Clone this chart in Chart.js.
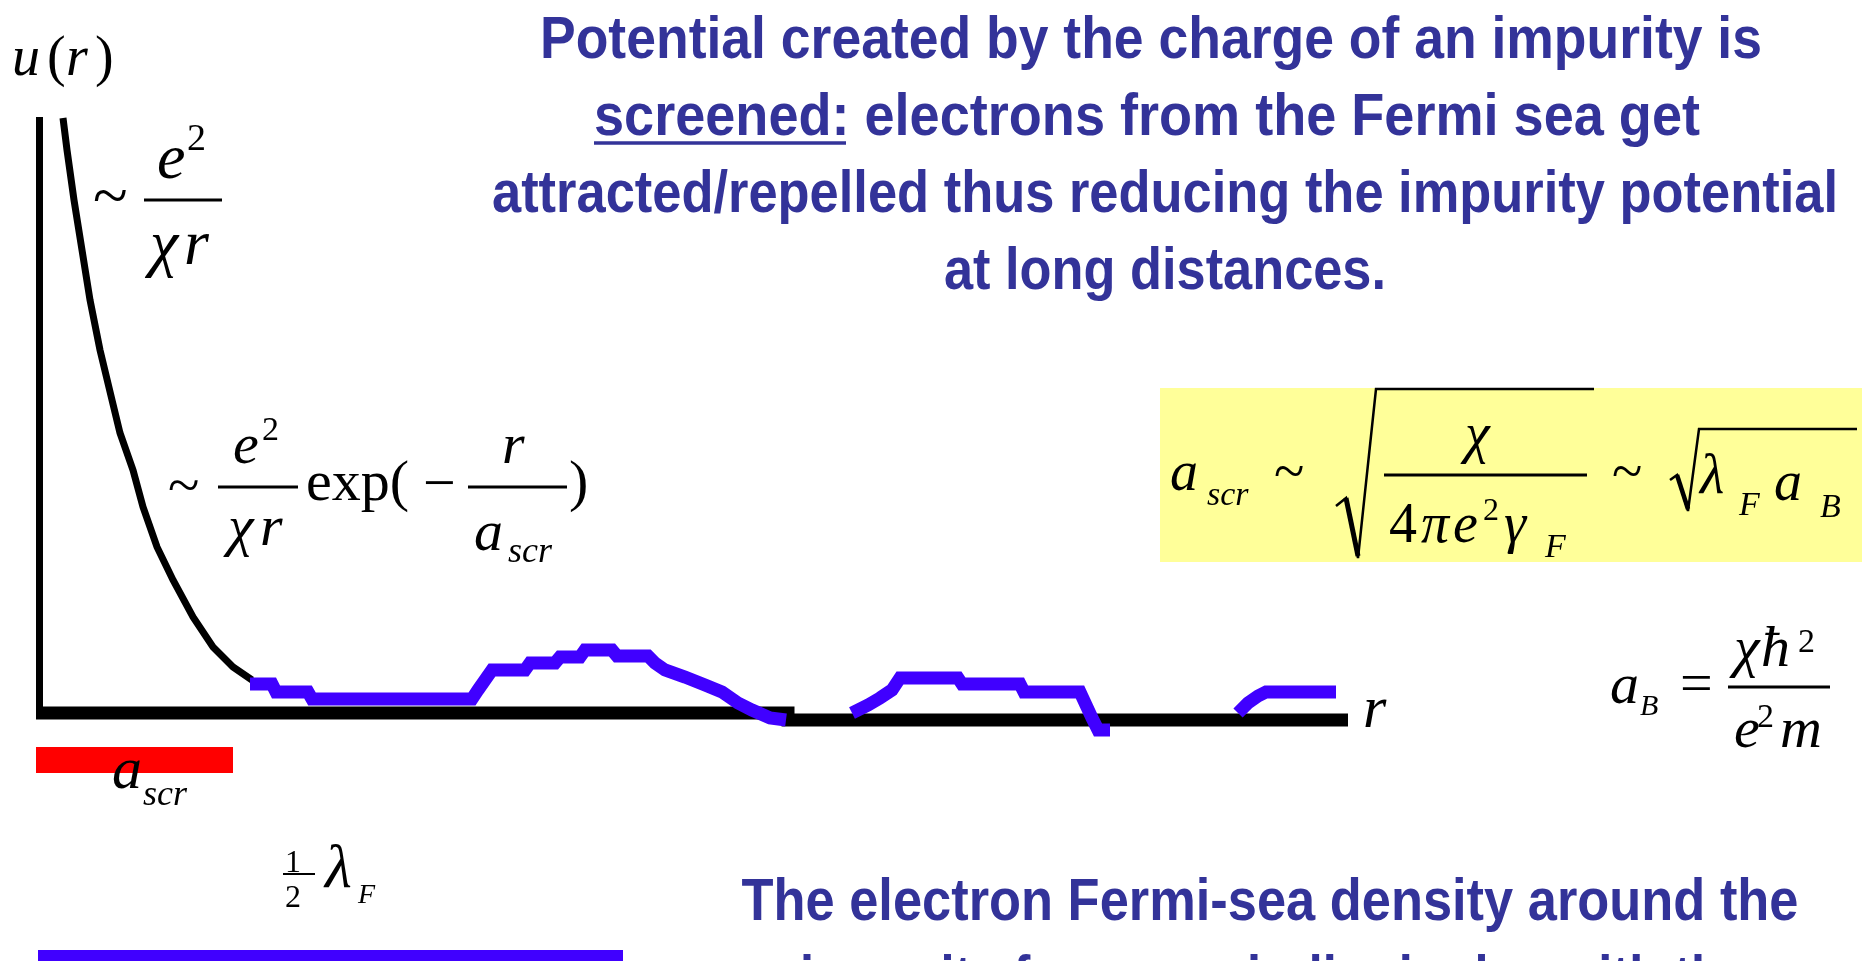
<!DOCTYPE html>
<html>
<head>
<meta charset="utf-8">
<script src="https://cdn.jsdelivr.net/npm/chart.js@4"></script>
<style>
    body { margin: 0; background: #fff; overflow: hidden; }
    #wrap { position: relative; width: 1862px; height: 961px; }
    #chart, #notes { position: absolute; left: 0; top: 0; }
    .sans { font-family: 'Liberation Sans', Arial, sans-serif; fill: #333399; font-size: 60px; font-weight: bold; }
    .serif { font-family: 'Liberation Serif', 'Times New Roman', serif; fill: #000; }
    .it { font-style: italic; }
</style>
</head>
<body>
<div id="wrap">
    <canvas id="chart" width="1862" height="961"></canvas>
    <svg id="notes" width="1862" height="961">
        <rect x="1160" y="388" width="702" height="174" fill="#ffff99"/>

        <text class="sans" x="1151" y="58" text-anchor="middle" textLength="1222" lengthAdjust="spacingAndGlyphs">Potential created by the charge of an impurity is</text>
        <text class="sans" x="1147" y="135" text-anchor="middle" textLength="1106" lengthAdjust="spacingAndGlyphs">screened: electrons from the Fermi sea get</text>
        <line x1="594" x2="846" y1="143" y2="143" stroke="#333399" stroke-width="3.5"/>
        <text class="sans" x="1165" y="212" text-anchor="middle" textLength="1346" lengthAdjust="spacingAndGlyphs">attracted/repelled thus reducing the impurity potential</text>
        <text class="sans" x="1165" y="289" text-anchor="middle" textLength="442" lengthAdjust="spacingAndGlyphs">at long distances.</text>
        <text class="sans" x="1270" y="920" text-anchor="middle" textLength="1057" lengthAdjust="spacingAndGlyphs">The electron Fermi-sea density around the</text>
        <text class="sans" x="1275" y="997" text-anchor="middle" textLength="950" lengthAdjust="spacingAndGlyphs">impurity forms periodic ripples with the</text>

        <g class="serif">
            <text font-size="56" y="75"><tspan class="it" x="12">u</tspan><tspan x="47">(</tspan><tspan class="it" x="66">r</tspan><tspan x="95">)</tspan></text>

            <text font-size="64" x="93" y="217">~</text>
            <text font-size="64" class="it" x="157" y="178">e</text>
            <text font-size="38" x="187" y="150">2</text>
            <line x1="144" x2="222" y1="200" y2="200" stroke="#000" stroke-width="3"/>
            <text font-size="64" class="it" y="264"><tspan x="150">χ</tspan><tspan x="184">r</tspan></text>

            <text font-size="58" x="168" y="504">~</text>
            <text font-size="58" class="it" x="233" y="463">e</text>
            <text font-size="34" x="262" y="440">2</text>
            <line x1="218" x2="298" y1="487" y2="487" stroke="#000" stroke-width="3"/>
            <text font-size="58" class="it" y="545"><tspan x="228">χ</tspan><tspan x="260">r</tspan></text>
            <text font-size="58" x="306" y="500">exp(</text>
            <text font-size="58" x="423" y="502">−</text>
            <line x1="468" x2="567" y1="487" y2="487" stroke="#000" stroke-width="3"/>
            <text font-size="58" class="it" x="502" y="463">r</text>
            <text font-size="58" class="it" x="474" y="550">a</text>
            <text font-size="36" class="it" x="508" y="562">scr</text>
            <text font-size="58" x="569" y="500">)</text>

            <text font-size="60" class="it" x="1363" y="727">r</text>

            <text font-size="60" class="it" x="112" y="788">a</text>
            <text font-size="36" class="it" x="143" y="805">scr</text>

            <text font-size="32" x="285" y="872">1</text>
            <line x1="283" x2="315" y1="874" y2="874" stroke="#000" stroke-width="2"/>
            <text font-size="32" x="285" y="907">2</text>
            <text font-size="62" class="it" x="325" y="887">λ</text>
            <text font-size="28" class="it" x="358" y="903">F</text>

            <text font-size="58" class="it" x="1610" y="703">a</text>
            <text font-size="30" class="it" x="1640" y="715">B</text>
            <text font-size="58" x="1680" y="702">=</text>
            <line x1="1728" x2="1830" y1="687" y2="687" stroke="#000" stroke-width="3"/>
            <text font-size="58" class="it" y="666"><tspan x="1734">χ</tspan><tspan x="1761">ħ</tspan></text>
            <text font-size="34" x="1798" y="652">2</text>
            <text font-size="58" class="it" x="1734" y="747">e</text>
            <text font-size="34" x="1757" y="727">2</text>
            <text font-size="58" class="it" x="1780" y="747">m</text>

            <text font-size="56" class="it" x="1170" y="490">a</text>
            <text font-size="34" class="it" x="1207" y="505">scr</text>
            <text font-size="56" x="1274" y="490">~</text>
            <path d="M1336,506 L1346,498 L1358,558 L1376,389 L1594,389" fill="none" stroke="#000" stroke-width="2.5"/>
            <line x1="1346" y1="498" x2="1358" y2="556" stroke="#000" stroke-width="5"/>
            <text font-size="56" class="it" x="1465" y="452">χ</text>
            <line x1="1384" x2="1587" y1="475" y2="475" stroke="#000" stroke-width="3"/>
            <text font-size="56" x="1389" y="542">4</text>
            <text font-size="56" class="it" y="542"><tspan x="1421">π</tspan><tspan x="1453">e</tspan></text>
            <text font-size="32" x="1483" y="520">2</text>
            <text font-size="56" class="it" x="1504" y="542">γ</text>
            <text font-size="34" class="it" x="1545" y="557">F</text>
            <text font-size="56" x="1612" y="490">~</text>
            <path d="M1670,480 L1677,475 L1688,511 L1699,429 L1857,429" fill="none" stroke="#000" stroke-width="2.5"/>
            <line x1="1677" y1="475" x2="1688" y2="509" stroke="#000" stroke-width="4.5"/>
            <text font-size="56" class="it" x="1700" y="493">λ</text>
            <text font-size="34" class="it" x="1739" y="515">F</text>
            <text font-size="56" class="it" x="1774" y="500">a</text>
            <text font-size="34" class="it" x="1820" y="517">B</text>
        </g>
    </svg>
</div>
<script>
// r: distance from the impurity, u: potential / density ripple (arbitrary units)
const decayR = [2.3, 2.7, 3.4, 4.2, 5.0, 6.0, 7.2, 8.0, 9.3, 10.3, 11.7, 13.3, 15.3, 17.3, 19.3, 21.2];
const decayU = [59.5, 56.3, 51.3, 46.3, 41.3, 36.3, 31.3, 28.0, 24.3, 20.6, 16.6, 13.3, 9.6, 6.6, 4.6, 3.3];

const rippleR = [21.0, 23.2, 23.6, 26.8, 27.2, 43.2, 43.8, 44.5, 45.2, 48.5, 49.0, 51.5, 52.0, 54.0, 54.5, 57.2,
    57.7, 60.8, 61.5, 62.5, 64.5, 66.5, 68.2, 69.8, 71.2, 73.0, 74.6, 77.0,
    81.2, 82.8, 84.0, 85.2, 86.0, 91.8, 92.2, 98.0, 98.4, 104.0, 104.6, 105.2, 105.8, 107.0, 112.0,
    119.8, 120.8, 121.8, 122.6, 129.6];
const rippleU = [2.9, 2.9, 2.1, 2.1, 1.4, 1.4, 2.3, 3.3, 4.3, 4.3, 5.0, 5.0, 5.6, 5.6, 6.3, 6.3,
    5.7, 5.7, 5.0, 4.3, 3.6, 2.8, 2.1, 1.0, 0.3, -0.5, -0.7, null,
    0.0, 0.8, 1.5, 2.3, 3.5, 3.5, 2.9, 2.9, 2.1, 2.1, 0.8, -0.5, -1.7, -1.7, null,
    0.0, 1.0, 1.7, 2.1, 2.1];

const rAxisR = [-0.4, 74.8, 74.8, 130.8];
const rAxisU = [0, 0, -0.7, -0.7];
const uAxisR = [-0.05, -0.05];
const uAxisU = [59.6, -0.6];

const aScrR = [-0.4, 19.3];
const aScrU = [-4.7, -4.7];
const halfLambdaR = [-0.2, 58.3];
const halfLambdaU = [-24.7, -24.7];

const pts = (xs, ys) => xs.map((x, i) => ({x: x, y: ys[i]}));

const line = (data, color, width, order) => ({
    data: data,
    borderColor: color,
    borderWidth: width,
    pointRadius: 0,
    tension: 0,
    fill: false,
    spanGaps: false,
    order: order
});

window.addEventListener('load', () => {
    const ctx = document.getElementById('chart');
    new Chart(ctx, {
        type: 'line',
        data: {
            datasets: [
                line(pts(rippleR, rippleU), '#4000ff', 13, 1),
                line(pts(decayR, decayU), '#000000', 7, 2),
                line(pts(rAxisR, rAxisU), '#000000', 13, 3),
                line(pts(uAxisR, uAxisU), '#000000', 7, 3),
                line(pts(aScrR, aScrU), '#ff0000', 26, 4),
                line(pts(halfLambdaR, halfLambdaU), '#4000ff', 20, 4)
            ]
        },
        options: {
            responsive: false,
            animation: false,
            devicePixelRatio: 1,
            layout: {padding: 0},
            plugins: {legend: {display: false}, tooltip: {enabled: false}},
            scales: {
                x: {type: 'linear', min: -4, max: 182.2, display: false},
                y: {type: 'linear', min: -24.8, max: 71.3, display: false}
            }
        }
    });
});
</script>
</body>
</html>
